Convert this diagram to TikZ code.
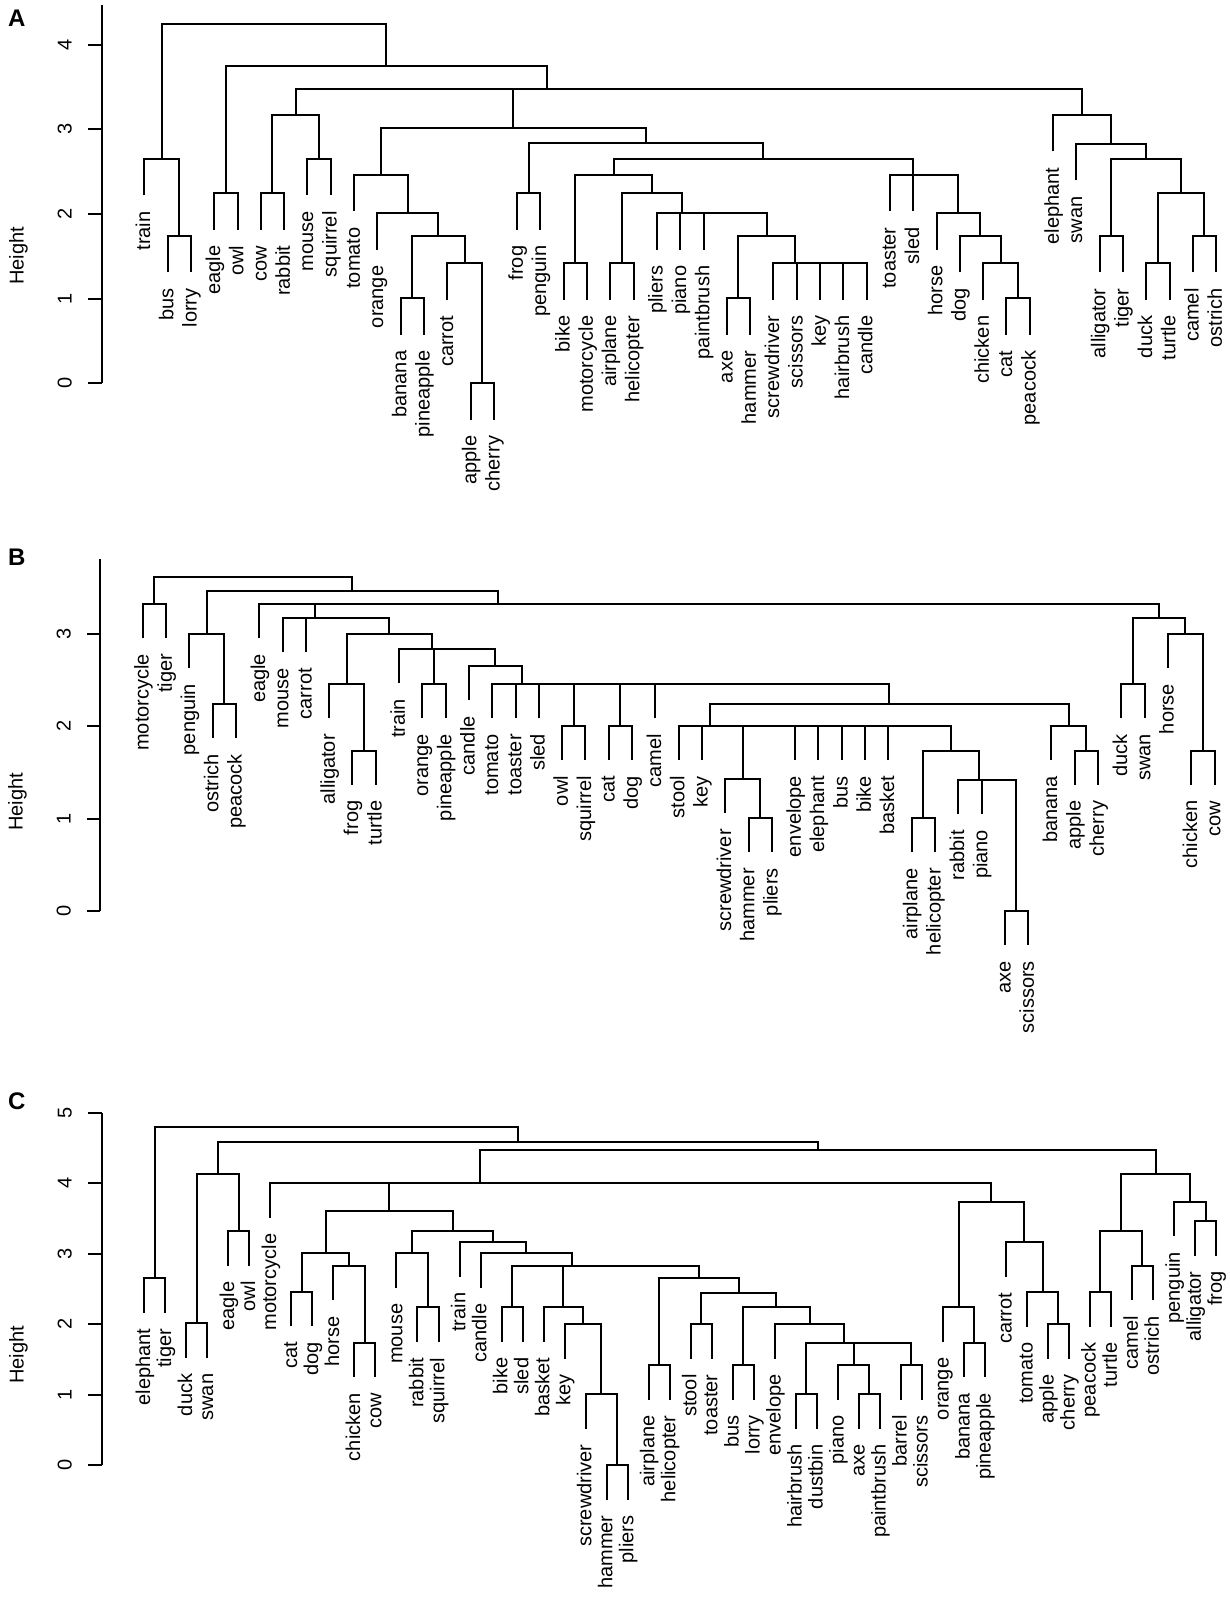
\documentclass[tikz,border=0pt]{standalone}
\usepackage{fontspec}
\setmainfont{Liberation Sans}
\usetikzlibrary{calc}
\tikzset{
  dl/.style={line width=2pt, line join=miter},
  lbl/.style={font=\fontsize{20}{24}\selectfont, rotate=90, anchor=base east, inner sep=0pt, outer sep=0pt},
  tl/.style={font=\fontsize{20}{24}\selectfont, rotate=90, anchor=base, inner sep=0pt},
  pl/.style={font=\fontsize{24}{28}\selectfont\bfseries, anchor=center, inner sep=0pt}
}
% leaf: name, x0, dx, index, bottom, text
\newcommand\lf[6]{%
  \coordinate (#1) at ({#2+(#4-1)*#3},#5);
  \node[lbl] (#1t) at ([xshift=5.8pt,yshift=-16pt]#1) {#6};}
\newcommand\la[3]{\lf{A-#3}{144.3}{23.3}{#1}{#2}{#3}}
\newcommand\lb[3]{\lf{B-#3}{142.7}{23.3}{#1}{#2}{#3}}
\newcommand\lc[3]{\lf{C-#3}{144.3}{21.014}{#1}{#2}{#3}}
% merge: name, child1, child2, y
\newcommand\mg[4]{%
  \path let \p1=(#2),\p2=(#3),\p3=(0,#4) in coordinate (#1) at ({0.5*\x1+0.5*\x2},\y3);
  \draw[dl] (#2) |- (#1) -| (#3);}
\begin{document}
\begin{tikzpicture}[x=1pt,y=-1pt]
\fill[white] (0,0) rectangle (1230,1602);
\useasboundingbox (0,0) rectangle (1230,1602);

% ================= Panel A =================
\node[pl] (labA) at (16.7,18.3) {A};
\node[tl] (htA) at (23.5,255.8) {Height};
\draw[dl] (101.7,5) -- (101.7,383.3);
\foreach \v/\yy in {0/383.3,1/298.7,2/214,3/129.3,4/44.7}{
  \draw[dl] (88.3,\yy) -- (101.7,\yy);
  \node[tl] at (71.5,\yy) {\v};}

\la{1}{195.5}{train}
\la{2}{272.5}{bus}
\la{3}{272.5}{lorry}
\la{4}{229.8}{eagle}
\la{5}{229.8}{owl}
\la{6}{229.8}{cow}
\la{7}{229.8}{rabbit}
\la{8}{195.5}{mouse}
\la{9}{195.5}{squirrel}
\la{10}{211.5}{tomato}
\la{11}{249.8}{orange}
\la{12}{334.8}{banana}
\la{13}{334.8}{pineapple}
\la{14}{299.8}{carrot}
\la{15}{419.8}{apple}
\la{16}{419.8}{cherry}
\la{17}{229.8}{frog}
\la{18}{229.8}{penguin}
\la{19}{299.8}{bike}
\la{20}{299.8}{motorcycle}
\la{21}{299.8}{airplane}
\la{22}{299.8}{helicopter}
\la{23}{249.8}{pliers}
\la{24}{249.8}{piano}
\la{25}{249.8}{paintbrush}
\la{26}{334.8}{axe}
\la{27}{334.8}{hammer}
\la{28}{299.8}{screwdriver}
\la{29}{299.8}{scissors}
\la{30}{299.8}{key}
\la{31}{299.8}{hairbrush}
\la{32}{299.8}{candle}
\la{33}{211.5}{toaster}
\la{34}{211.5}{sled}
\la{35}{249.8}{horse}
\la{36}{272.5}{dog}
\la{37}{299.8}{chicken}
\la{38}{334.8}{cat}
\la{39}{334.8}{peacock}
\la{40}{151.5}{elephant}
\la{41}{180.5}{swan}
\la{42}{272.5}{alligator}
\la{43}{272.5}{tiger}
\la{44}{299.8}{duck}
\la{45}{299.8}{turtle}
\la{46}{272.5}{camel}
\la{47}{272.5}{ostrich}

\mg{A1}{A-bus}{A-lorry}{236}
\mg{A2}{A-train}{A1}{159}
\mg{A3}{A-eagle}{A-owl}{193.3}
\mg{A4}{A-cow}{A-rabbit}{193.3}
\mg{A5}{A-mouse}{A-squirrel}{159}
\mg{A6}{A4}{A5}{115}
\mg{A7}{A-banana}{A-pineapple}{298.3}
\mg{A8}{A-apple}{A-cherry}{383.3}
\mg{A9}{A-carrot}{A8}{263.3}
\mg{A10}{A7}{A9}{236}
\mg{A11}{A-orange}{A10}{213.3}
\mg{A12}{A-tomato}{A11}{175}
\mg{A13}{A-frog}{A-penguin}{193.3}
\mg{A14}{A-bike}{A-motorcycle}{263.3}
\mg{A15}{A-airplane}{A-helicopter}{263.3}
\mg{A16}{A-axe}{A-hammer}{298.3}
\mg{A17}{A-hairbrush}{A-candle}{263.3}
\mg{A18}{A-key}{A17}{263.3}
\mg{A19}{A-scissors}{A18}{263.3}
\mg{A20}{A-screwdriver}{A19}{263.3}
\mg{A21}{A16}{A20}{236}
\mg{A22}{A-paintbrush}{A21}{213.3}
\mg{A23}{A-piano}{A22}{213.3}
\mg{A24}{A-pliers}{A23}{213.3}
\mg{A25}{A15}{A24}{193.3}
\mg{A26}{A14}{A25}{175}
\mg{A27}{A-cat}{A-peacock}{298.3}
\mg{A28}{A-chicken}{A27}{263.3}
\mg{A29}{A-dog}{A28}{236}
\mg{A30}{A-horse}{A29}{213.3}
\mg{A31}{A-sled}{A30}{175}
\mg{A32}{A-toaster}{A31}{175}
\mg{A33}{A26}{A32}{159.3}
\mg{A34}{A13}{A33}{143.3}
\mg{A35}{A12}{A34}{128.3}
\mg{A36}{A-alligator}{A-tiger}{236}
\mg{A37}{A-duck}{A-turtle}{263.3}
\mg{A38}{A-camel}{A-ostrich}{236}
\mg{A39}{A37}{A38}{193.3}
\mg{A40}{A36}{A39}{159.3}
\mg{A41}{A-swan}{A40}{144}
\mg{A42}{A-elephant}{A41}{115}
\mg{A43}{A35}{A42}{89.3}
\mg{A44}{A6}{A43}{89.3}
\mg{A45}{A3}{A44}{66}
\mg{A46}{A2}{A45}{24}

% ================= Panel B =================
\node[pl] (labB) at (16.7,557) {B};
\node[tl] (htB) at (22.5,801.7) {Height};
\draw[dl] (100,559.3) -- (100,910.7);
\foreach \v/\yy in {0/910.7,1/818.5,2/726.3,3/634.1}{
  \draw[dl] (86.7,\yy) -- (100,\yy);
  \node[tl] at (70.5,\yy) {\v};}

\lb{1}{638}{motorcycle}
\lb{2}{638}{tiger}
\lb{3}{668}{penguin}
\lb{4}{738}{ostrich}
\lb{5}{738}{peacock}
\lb{6}{638}{eagle}
\lb{7}{652.3}{mouse}
\lb{8}{652.3}{carrot}
\lb{9}{718.3}{alligator}
\lb{10}{784.7}{frog}
\lb{11}{784.7}{turtle}
\lb{12}{683}{train}
\lb{13}{718.3}{orange}
\lb{14}{718.3}{pineapple}
\lb{15}{700.3}{candle}
\lb{16}{718.3}{tomato}
\lb{17}{718.3}{toaster}
\lb{18}{718.3}{sled}
\lb{19}{760}{owl}
\lb{20}{760}{squirrel}
\lb{21}{760}{cat}
\lb{22}{760}{dog}
\lb{23}{718.3}{camel}
\lb{24}{760}{stool}
\lb{25}{760}{key}
\lb{26}{813.3}{screwdriver}
\lb{27}{852.3}{hammer}
\lb{28}{852.3}{pliers}
\lb{29}{760}{envelope}
\lb{30}{760}{elephant}
\lb{31}{760}{bus}
\lb{32}{760}{bike}
\lb{33}{760}{basket}
\lb{34}{852.3}{airplane}
\lb{35}{852.3}{helicopter}
\lb{36}{814}{rabbit}
\lb{37}{814}{piano}
\lb{38}{945}{axe}
\lb{39}{945}{scissors}
\lb{40}{760}{banana}
\lb{41}{784.7}{apple}
\lb{42}{784.7}{cherry}
\lb{43}{718.3}{duck}
\lb{44}{718.3}{swan}
\lb{45}{668}{horse}
\lb{46}{784.7}{chicken}
\lb{47}{784.7}{cow}

\mg{B1}{B-motorcycle}{B-tiger}{604}
\mg{B2}{B-ostrich}{B-peacock}{704}
\mg{B3}{B-penguin}{B2}{634}
\mg{B4}{B-frog}{B-turtle}{750.7}
\mg{B5}{B-alligator}{B4}{684.3}
\mg{B6}{B-orange}{B-pineapple}{684.3}
\mg{B7}{B-owl}{B-squirrel}{726}
\mg{B8}{B-cat}{B-dog}{726}
\mg{B9}{B-hammer}{B-pliers}{818.3}
\mg{B10}{B-screwdriver}{B9}{779.3}
\mg{B11}{B-airplane}{B-helicopter}{818.3}
\mg{B12}{B-axe}{B-scissors}{911}
\mg{B13}{B-piano}{B12}{780}
\mg{B14}{B-rabbit}{B13}{780}
\mg{B15}{B11}{B14}{750.7}
\mg{B16}{B-basket}{B15}{726}
\mg{B17}{B-bike}{B16}{726}
\mg{B18}{B-bus}{B17}{726}
\mg{B19}{B-elephant}{B18}{726}
\mg{B20}{B-envelope}{B19}{726}
\mg{B21}{B10}{B20}{726}
\mg{B22}{B-key}{B21}{726}
\mg{B23}{B-stool}{B22}{726}
\mg{B24}{B-apple}{B-cherry}{750.7}
\mg{B25}{B-banana}{B24}{726}
\mg{B26}{B23}{B25}{704}
\mg{B27}{B-camel}{B26}{684.3}
\mg{B28}{B8}{B27}{684.3}
\mg{B29}{B7}{B28}{684.3}
\mg{B30}{B-sled}{B29}{684.3}
\mg{B31}{B-toaster}{B30}{684.3}
\mg{B32}{B-tomato}{B31}{684.3}
\mg{B33}{B-candle}{B32}{666.3}
\mg{B34}{B6}{B33}{649}
\mg{B35}{B-train}{B34}{649}
\mg{B36}{B5}{B35}{634}
\mg{B37}{B-carrot}{B36}{618.3}
\mg{B38}{B-mouse}{B37}{618.3}
\mg{B39}{B-duck}{B-swan}{684.3}
\mg{B40}{B-chicken}{B-cow}{750.7}
\mg{B41}{B-horse}{B40}{634}
\mg{B42}{B39}{B41}{618.3}
\mg{B43}{B38}{B42}{604}
\mg{B44}{B-eagle}{B43}{604}
\mg{B45}{B3}{B44}{590.7}
\mg{B46}{B1}{B45}{577.3}

% ================= Panel C =================
\node[pl] (labC) at (16.7,1101.7) {C};
\node[tl] (htC) at (23.5,1354.7) {Height};
\draw[dl] (101.7,1112.7) -- (101.7,1465);
\foreach \v/\yy in {0/1465,1/1394.5,2/1324,3/1253.6,4/1183.1,5/1112.7}{
  \draw[dl] (88.3,\yy) -- (101.7,\yy);
  \node[tl] at (71.5,\yy) {\v};}

\lc{1}{1312.8}{elephant}
\lc{2}{1312.8}{tiger}
\lc{3}{1357.8}{duck}
\lc{4}{1357.8}{swan}
\lc{5}{1265.5}{eagle}
\lc{6}{1265.5}{owl}
\lc{7}{1217.8}{motorcycle}
\lc{8}{1326.2}{cat}
\lc{9}{1326.2}{dog}
\lc{10}{1300.2}{horse}
\lc{11}{1377.2}{chicken}
\lc{12}{1377.2}{cow}
\lc{13}{1287.8}{mouse}
\lc{14}{1341.8}{rabbit}
\lc{15}{1341.8}{squirrel}
\lc{16}{1276.8}{train}
\lc{17}{1287.8}{candle}
\lc{18}{1341.8}{bike}
\lc{19}{1341.8}{sled}
\lc{20}{1341.8}{basket}
\lc{21}{1358.5}{key}
\lc{22}{1428.5}{screwdriver}
\lc{23}{1499.5}{hammer}
\lc{24}{1499.5}{pliers}
\lc{25}{1399.5}{airplane}
\lc{26}{1399.5}{helicopter}
\lc{27}{1358.5}{stool}
\lc{28}{1358.5}{toaster}
\lc{29}{1399.5}{bus}
\lc{30}{1399.5}{lorry}
\lc{31}{1358.5}{envelope}
\lc{32}{1428.5}{hairbrush}
\lc{33}{1428.5}{dustbin}
\lc{34}{1399.5}{piano}
\lc{35}{1428.5}{axe}
\lc{36}{1428.5}{paintbrush}
\lc{37}{1399.5}{barrel}
\lc{38}{1399.5}{scissors}
\lc{39}{1341.8}{orange}
\lc{40}{1377.2}{banana}
\lc{41}{1377.2}{pineapple}
\lc{42}{1276.8}{carrot}
\lc{43}{1326.8}{tomato}
\lc{44}{1358.5}{apple}
\lc{45}{1358.5}{cherry}
\lc{46}{1326.8}{peacock}
\lc{47}{1326.8}{turtle}
\lc{48}{1300.2}{camel}
\lc{49}{1300.2}{ostrich}
\lc{50}{1236.2}{penguin}
\lc{51}{1255.5}{alligator}
\lc{52}{1255.5}{frog}

\mg{C1}{C-elephant}{C-tiger}{1278.3}
\mg{C2}{C-duck}{C-swan}{1323.3}
\mg{C3}{C-eagle}{C-owl}{1231}
\mg{C4}{C2}{C3}{1174.3}
\mg{C5}{C-cat}{C-dog}{1291.7}
\mg{C6}{C-chicken}{C-cow}{1342.7}
\mg{C7}{C-horse}{C6}{1265.7}
\mg{C8}{C5}{C7}{1253.3}
\mg{C9}{C-rabbit}{C-squirrel}{1307.3}
\mg{C10}{C-mouse}{C9}{1253.3}
\mg{C11}{C-bike}{C-sled}{1307.3}
\mg{C12}{C-hammer}{C-pliers}{1465}
\mg{C13}{C-screwdriver}{C12}{1394}
\mg{C14}{C-key}{C13}{1324}
\mg{C15}{C-basket}{C14}{1307.3}
\mg{C16}{C-airplane}{C-helicopter}{1365}
\mg{C17}{C-stool}{C-toaster}{1324}
\mg{C18}{C-bus}{C-lorry}{1365}
\mg{C19}{C-hairbrush}{C-dustbin}{1394}
\mg{C20}{C-axe}{C-paintbrush}{1394}
\mg{C21}{C-piano}{C20}{1365}
\mg{C22}{C-barrel}{C-scissors}{1365}
\mg{C23}{C21}{C22}{1342.7}
\mg{C24}{C19}{C23}{1342.7}
\mg{C25}{C-envelope}{C24}{1324}
\mg{C26}{C18}{C25}{1307.3}
\mg{C27}{C17}{C26}{1292.7}
\mg{C28}{C16}{C27}{1278.3}
\mg{C29}{C15}{C28}{1265.7}
\mg{C30}{C11}{C29}{1265.7}
\mg{C31}{C-candle}{C30}{1253.3}
\mg{C32}{C-train}{C31}{1242.3}
\mg{C33}{C10}{C32}{1231}
\mg{C34}{C8}{C33}{1210.7}
\mg{C35}{C-banana}{C-pineapple}{1342.7}
\mg{C36}{C-orange}{C35}{1307.3}
\mg{C37}{C-apple}{C-cherry}{1324}
\mg{C38}{C-tomato}{C37}{1292.3}
\mg{C39}{C-carrot}{C38}{1242.3}
\mg{C40}{C36}{C39}{1201.7}
\mg{C41}{C34}{C40}{1183.3}
\mg{C42}{C-motorcycle}{C41}{1183.3}
\mg{C43}{C-peacock}{C-turtle}{1292.3}
\mg{C44}{C-camel}{C-ostrich}{1265.7}
\mg{C45}{C43}{C44}{1231}
\mg{C46}{C-alligator}{C-frog}{1221}
\mg{C47}{C-penguin}{C46}{1201.7}
\mg{C48}{C45}{C47}{1174.3}
\mg{C49}{C42}{C48}{1150}
\mg{C50}{C4}{C49}{1141.7}
\mg{C51}{C1}{C50}{1127.3}
\end{tikzpicture}
\end{document}
